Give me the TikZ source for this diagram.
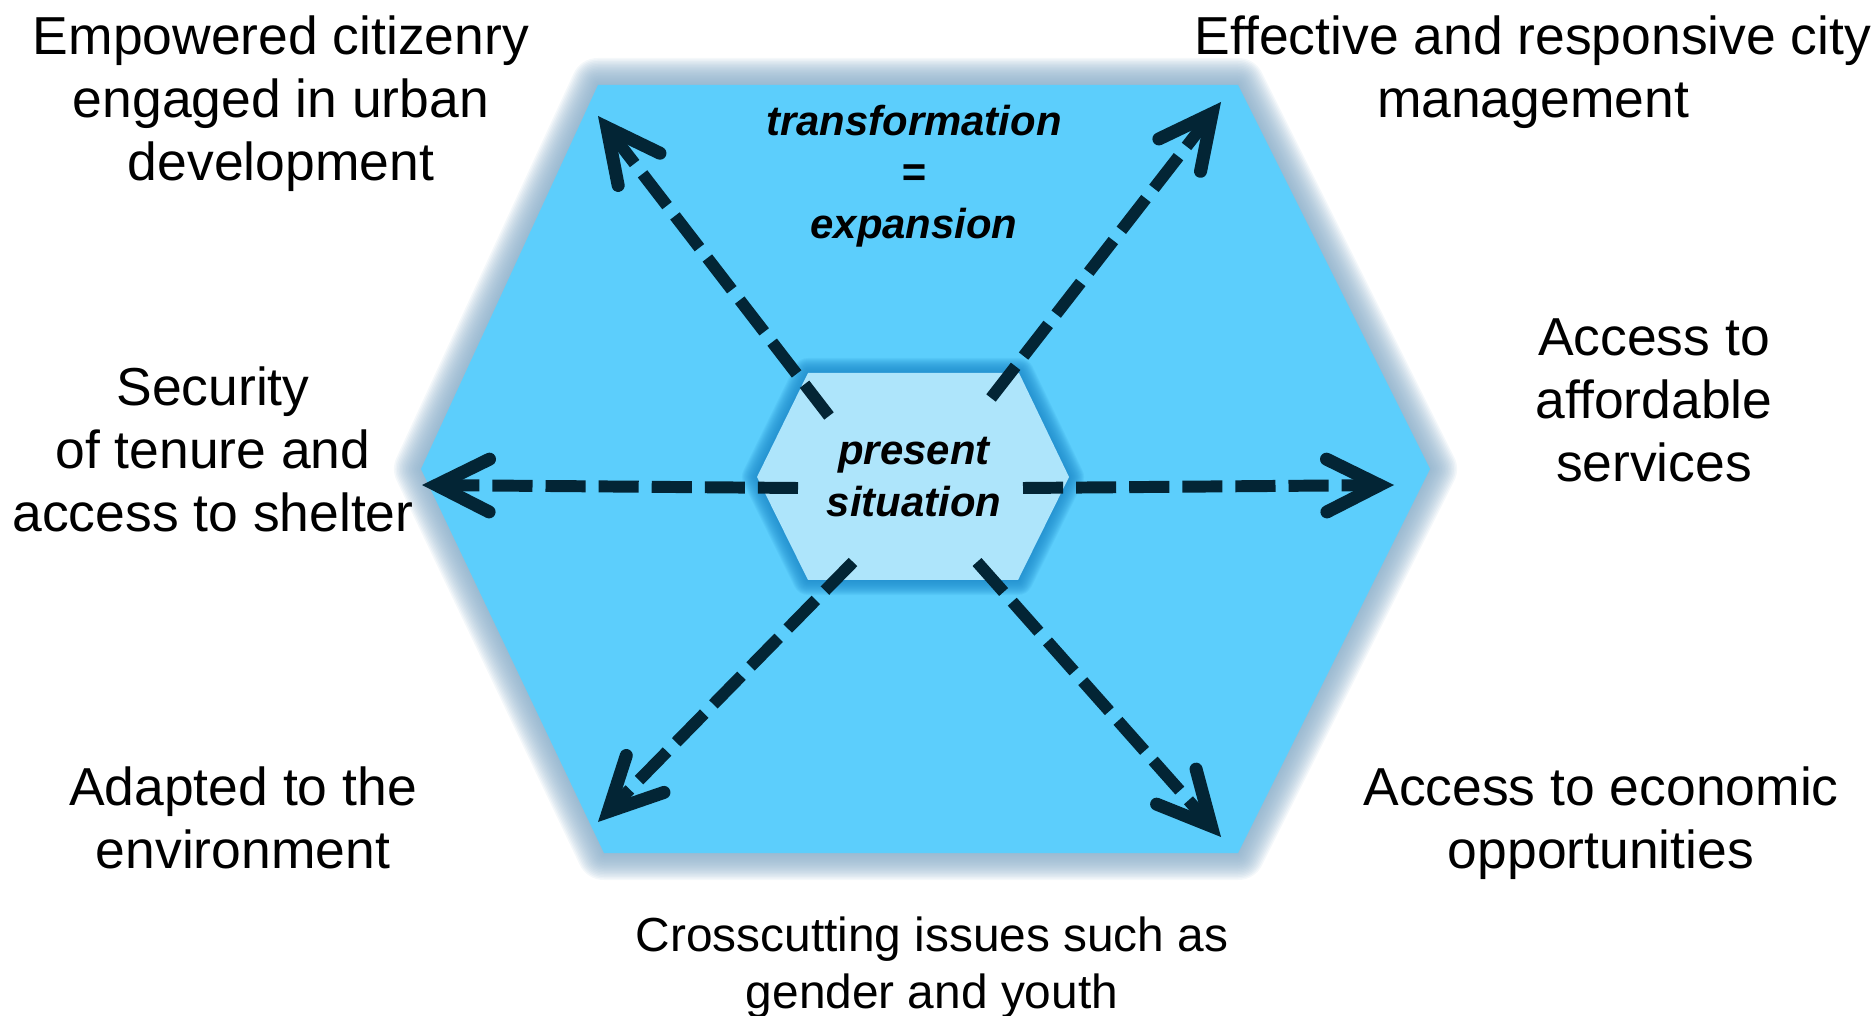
\documentclass[tikz,border=0pt]{standalone}
\usepackage{fontspec}
\setmainfont{Liberation Sans}
\usetikzlibrary{arrows.meta}

\definecolor{hexblue}{RGB}{92,206,252}
\definecolor{corelight}{RGB}{174,229,251}
\definecolor{hazeblue}{RGB}{135,172,200}
\definecolor{coreedge}{RGB}{30,140,205}
\definecolor{navy}{RGB}{3,37,53}

\begin{document}
\begin{tikzpicture}[
    x=0.01cm, y=-0.01cm,
    goal/.style={align=center, anchor=north, inner sep=0pt, font=\fontsize{15.2pt}{17.9pt}\selectfont},
    core/.style={align=center, font=\fontsize{11.9pt}{14.7pt}\selectfont\bfseries\itshape},
    outerglow/.style={draw=hazeblue, draw opacity=0.09, line join=round},
    innerglow/.style={draw=coreedge, draw opacity=0.1, line join=round},
    expand/.style={draw=navy, line width=3.4pt, dash pattern=on 11.4pt off 3.7pt,
        -{Straight Barb[length=15pt, width=15pt, line width=3.7pt, line cap=round, line join=miter]}}
]
    \useasboundingbox (0,0) rectangle (1876,1016);

    % Outer hexagon
    \coordinate (o1) at (598,85);
    \coordinate (o2) at (1238,85);
    \coordinate (o3) at (1430,469);
    \coordinate (o4) at (1238,853);
    \coordinate (o5) at (604,853);
    \coordinate (o6) at (421,469);
    \foreach \w in {3,6,...,54}
        \draw[outerglow, line width=\w*0.2845pt] (o1) -- (o2) -- (o3) -- (o4) -- (o5) -- (o6) -- cycle;
    \fill[hexblue] (o1) -- (o2) -- (o3) -- (o4) -- (o5) -- (o6) -- cycle;

    % Inner hexagon
    \coordinate (i1) at (808,373);
    \coordinate (i2) at (1019,373);
    \coordinate (i3) at (1069,477);
    \coordinate (i4) at (1018,580);
    \coordinate (i5) at (808,580);
    \coordinate (i6) at (757,477);
    \foreach \w in {2,4,...,30}
        \draw[innerglow, line width=\w*0.2845pt] (i1) -- (i2) -- (i3) -- (i4) -- (i5) -- (i6) -- cycle;
    \fill[corelight] (i1) -- (i2) -- (i3) -- (i4) -- (i5) -- (i6) -- cycle;

    \node[core] (present) at (914,477) {present\\situation};
    \node[core] (transform) at (914,176) {transformation\\=\\expansion};

    % Dimensions
    \node[goal] (citizen) at (281,15) {Empowered citizenry\\engaged in urban\\development};
    \node[goal] (manage) at (1533,15) {Effective and responsive city\\management};
    \node[goal] (services) at (1654,318) {Access to\\affordable\\services};
    \node[goal] (tenure) at (213,366) {Security\\of tenure and\\access to shelter};
    \node[goal] (environ) at (243,766) {Adapted to the\\environment};
    \node[goal] (economy) at (1601,766) {Access to economic\\opportunities};
    \node[goal, font=\fontsize{13.6pt}{16.2pt}\selectfont] (crosscut) at (932,916) {Crosscutting issues such as\\gender and youth};

    % Expansion arrows
    \coordinate (s1) at (829,416);  \coordinate (t1) at (598,116);
    \coordinate (s2) at (991,398);  \coordinate (t2) at (1221,102);
    \coordinate (s3) at (1023,488); \coordinate (t3) at (1394,485);
    \coordinate (s4) at (977,562);  \coordinate (t4) at (1221,837);
    \coordinate (s5) at (853,562);  \coordinate (t5) at (598,822);
    \coordinate (s6) at (798,488);  \coordinate (t6) at (422,485);
    \foreach \i in {1,...,6}
        \draw[expand] (s\i) -- (t\i);
\end{tikzpicture}
\end{document}
